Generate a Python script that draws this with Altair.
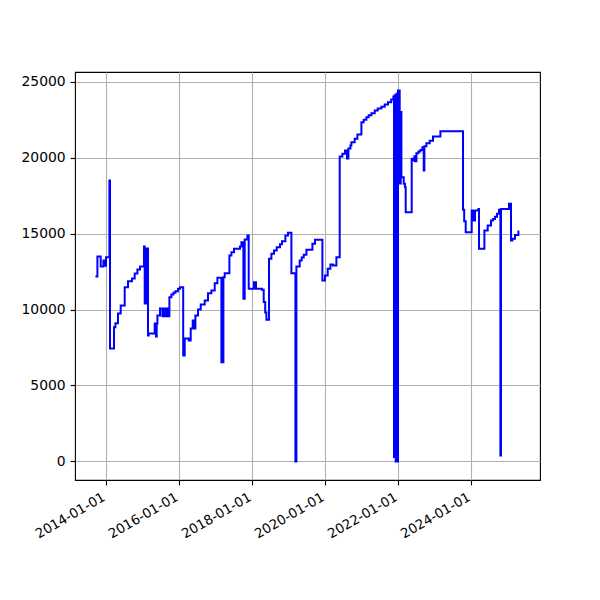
import altair as alt
import pandas as pd

dates = [
    "2013-09-15", "2013-10-05", "2013-11-07", "2013-12-04", "2013-12-17", "2013-12-30",
    "2014-02-02", "2014-02-08", "2014-03-20", "2014-04-03", "2014-04-29", "2014-05-26",
    "2014-07-05", "2014-08-07", "2014-09-16", "2014-10-13", "2014-11-09", "2014-12-05",
    "2015-01-14", "2015-01-21", "2015-02-03", "2015-02-23", "2015-03-02", "2015-05-01",
    "2015-05-14", "2015-05-21", "2015-05-28", "2015-06-23", "2015-07-17", "2015-07-23",
    "2015-08-09", "2015-08-16", "2015-09-05", "2015-09-25", "2015-10-15", "2015-11-04",
    "2015-11-24", "2015-12-20", "2016-01-09", "2016-02-10", "2016-02-25", "2016-04-05",
    "2016-04-25", "2016-05-15", "2016-06-04", "2016-06-11", "2016-07-07", "2016-08-03",
    "2016-09-12", "2016-10-15", "2016-11-18", "2016-12-21", "2017-01-17", "2017-02-26",
    "2017-03-18", "2017-03-31", "2017-05-17", "2017-06-06", "2017-07-02", "2017-08-31",
    "2017-09-14", "2017-10-04", "2017-10-17", "2017-11-13", "2017-11-26", "2018-01-18",
    "2018-02-07", "2018-04-08", "2018-04-25", "2018-05-10", "2018-05-22", "2018-06-17",
    "2018-07-11", "2018-08-06", "2018-09-02", "2018-10-05", "2018-10-25", "2018-11-28",
    "2018-12-24", "2019-01-27", "2019-03-08", "2019-03-18", "2019-04-20", "2019-05-10",
    "2019-05-30", "2019-06-26", "2019-08-25", "2019-09-20", "2019-12-03", "2019-12-29",
    "2020-01-25", "2020-02-21", "2020-03-18", "2020-04-21", "2020-05-24", "2020-06-20",
    "2020-07-16", "2020-08-05", "2020-08-19", "2020-09-08", "2020-09-18", "2020-10-21",
    "2020-11-17", "2020-12-27", "2021-01-19", "2021-02-15", "2021-03-10", "2021-04-06",
    "2021-05-09", "2021-06-08", "2021-07-15", "2021-08-17", "2021-09-19", "2021-10-21",
    "2021-11-12", "2021-11-18", "2021-11-25", "2021-12-05", "2021-12-13", "2021-12-20",
    "2021-12-28", "2022-01-14", "2022-01-24", "2022-01-31", "2022-02-23", "2022-03-08",
    "2022-03-15", "2022-05-14", "2022-05-27", "2022-06-10", "2022-06-16", "2022-06-30",
    "2022-07-20", "2022-08-09", "2022-08-29", "2022-09-11", "2022-09-18", "2022-10-08",
    "2022-11-10", "2022-12-13", "2023-02-25", "2023-10-09", "2023-10-21", "2023-11-05",
    "2024-01-04", "2024-01-24", "2024-02-06", "2024-03-11", "2024-03-17", "2024-05-10",
    "2024-06-12", "2024-07-15", "2024-08-04", "2024-08-24", "2024-09-13", "2024-10-03",
    "2024-10-17", "2024-10-23", "2025-01-11", "2025-01-31", "2025-02-14", "2025-03-12",
    "2025-04-15",
]

values = [
    12170, 13490, 12830, 13225, 12880, 13440,
    18490, 7435, 8840, 9100, 9740, 10265,
    11470, 11860, 12040, 12370, 12630, 12830,
    14150, 10400, 14015, 8290, 8420, 9080,
    8220, 9080, 9610, 10070, 9550, 10070,
    9550, 10070, 9550, 10810, 10990, 11100,
    11200, 11360, 11470, 6975, 8090, 7960,
    8750, 9280, 8750, 9610, 10000, 10330,
    10590, 11075, 11250, 11730, 12085, 6535,
    12130, 12390, 13555, 13775, 13995, 14150,
    14430, 10700, 14600, 14870, 11360, 11800,
    11360, 11300, 10500, 9800, 9325, 13340,
    13665, 13885, 14100, 14300, 14495, 14870,
    15050, 12390, 0, 12830, 13225, 13430,
    13600, 13930, 14320, 14590, 11910, 12240,
    12680, 12960, 12900, 13440, 20070, 20245,
    20465, 19940, 20600, 20790, 21010, 21230,
    21515, 22320, 22480, 22650, 22780, 22910,
    23090, 23220, 23350, 23490, 23635, 23820,
    24010, 300, 24100, 0, 24200, 0,
    24410, 18290, 23000, 18700, 18270, 18050,
    16400, 19920, 19800, 20080, 19750, 20290,
    20400, 20500, 20680, 19150, 20750, 20945,
    21100, 21385, 21735, 16560, 15800, 15090,
    16515, 15860, 16515, 16620, 13995, 15200,
    15530, 15860, 15950, 16100, 16300, 16560,
    400, 16620, 16960, 14545, 14650, 14900,
    15200,
]

tick_years = [2014, 2016, 2018, 2020, 2022, 2024]
y_ticks = [0, 5000, 10000, 15000, 20000, 25000]

df = pd.DataFrame({"date": dates, "value": values})

FONT = "DejaVu Sans"

line = alt.Chart(df).mark_line(
    color="#0000ff", strokeWidth=2.0, interpolate="step-after", clip=True
).encode(
    x=alt.X(
        "date:T",
        scale=alt.Scale(
            type="utc",
            domain=[
                alt.DateTime(year=2013, month=2, date=23, utc=True),
                alt.DateTime(year=2025, month=11, date=17, utc=True),
            ],
            nice=False,
        ),
        axis=alt.Axis(
            values=[alt.DateTime(year=y, month=1, date=1, utc=True) for y in tick_years],
            format="%Y-%m-%d",
            labelAngle=330,
            labelAlign="right",
            labelBaseline="top",
            labelOffset=-6,
            labelPadding=4.9,
            tickSize=4.9,
            labelOverlap=False,
            labelFlush=False,
            labelFontSize=13.4,
            title="",
        ),
    ),
    y=alt.Y(
        "value:Q",
        scale=alt.Scale(domain=[-1220, 25630], nice=False, zero=False),
        axis=alt.Axis(
            values=y_ticks,
            format="d",
            labelPadding=4.9,
            tickSize=4.9,
            labelOverlap=False,
            labelFlush=False,
            title="",
        ),
    ),
)

chart = line.properties(
    width=465,
    height=408,
    autosize=alt.AutoSizeParams(type="none"),
    padding={"left": 67, "top": 64, "right": 40, "bottom": 90},
    background="white",
).configure_view(
    stroke="black", strokeWidth=1.1
).configure_axis(
    domain=False,
    grid=True,
    gridColor="#b0b0b0",
    gridWidth=1.1,
    tickColor="black",
    tickWidth=1.1,
    labelColor="black",
    labelFont=FONT,
    labelFontSize=13.9,
)

chart.save("out.html", embed_options={"renderer": "svg", "actions": False})
